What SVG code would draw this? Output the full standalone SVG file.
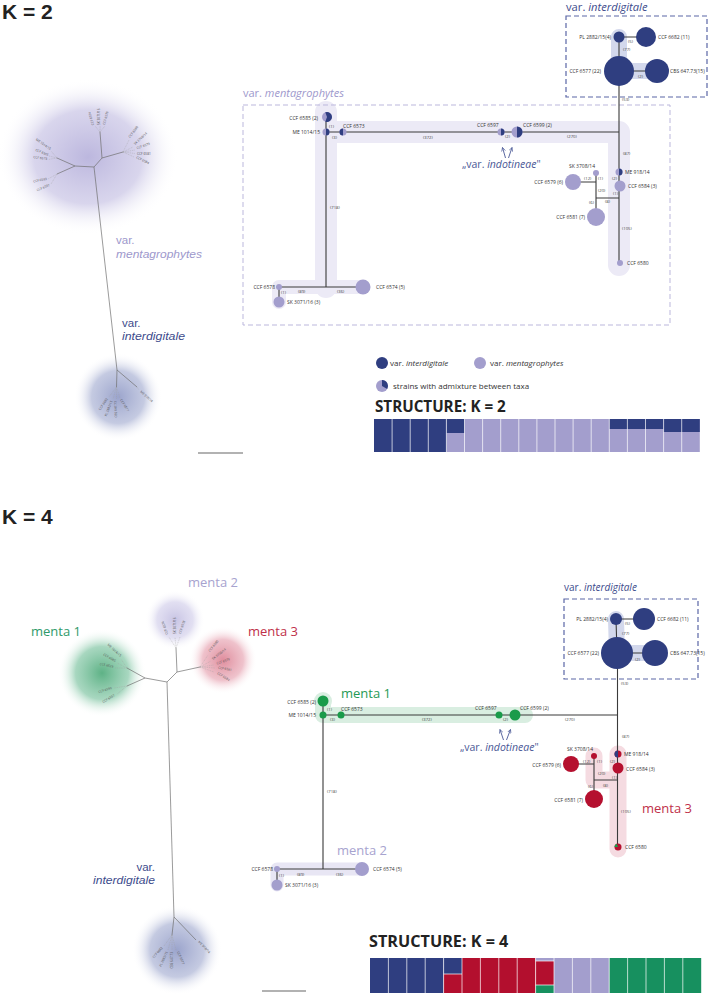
<svg xmlns="http://www.w3.org/2000/svg" width="709" height="994" viewBox="0 0 709 994">
<defs>
<style>
text{font-family:"Open Sans","Liberation Sans",sans-serif}
.n{font-size:5px;fill:#333}
.s{font-size:4.2px;fill:#444}
.t{font-size:3.2px;fill:#555}
.e{stroke:#3a3a3a;stroke-width:1.1;fill:none}
.tr{stroke:#707070;stroke-width:0.7;fill:none}
.dl{stroke:#a0a0a0;stroke-width:0.4;stroke-dasharray:1 0.8;fill:none}
.nv{fill:#2f3e80}.lp{fill:#a39ecd}.gr{fill:#1a9b4a}.rd{fill:#b5102f}
.hd{font-weight:700;fill:#222}
.kh{font-family:"Liberation Sans",Arial,sans-serif;font-weight:700;fill:#222;font-size:21px}
.tl{font-family:"Liberation Sans",Arial,sans-serif;font-size:11.5px}
.ib{fill:#3d4b8c}.mb{fill:#9d98cc}
.it{font-style:italic}
.ar{stroke:#4a5896;stroke-width:0.9;fill:none;marker-end:url(#ah)}
</style>
<marker id="ah" viewBox="0 0 6 6" refX="5" refY="3" markerWidth="5" markerHeight="5" orient="auto"><path d="M0,0.5 L5,3 L0,5.5" fill="none" stroke="#4a5896" stroke-width="0.9"/></marker>
<radialGradient id="gTop"><stop offset="0" stop-color="#bcb7de"/><stop offset="0.6" stop-color="#cfcbe8" stop-opacity="0.8"/><stop offset="1" stop-color="#ffffff" stop-opacity="0"/></radialGradient>
<radialGradient id="gInt"><stop offset="0" stop-color="#9ba4cc"/><stop offset="0.6" stop-color="#b6bdda" stop-opacity="0.8"/><stop offset="1" stop-color="#ffffff" stop-opacity="0"/></radialGradient>
<radialGradient id="gGr"><stop offset="0" stop-color="#5eb286"/><stop offset="0.6" stop-color="#92cdb0" stop-opacity="0.8"/><stop offset="1" stop-color="#ffffff" stop-opacity="0"/></radialGradient>
<radialGradient id="gPu"><stop offset="0" stop-color="#c8c4e4"/><stop offset="0.6" stop-color="#dad7ee" stop-opacity="0.8"/><stop offset="1" stop-color="#ffffff" stop-opacity="0"/></radialGradient>
<radialGradient id="gRd"><stop offset="0" stop-color="#df8d9d"/><stop offset="0.6" stop-color="#ebb3bf" stop-opacity="0.8"/><stop offset="1" stop-color="#ffffff" stop-opacity="0"/></radialGradient>
</defs>
<rect width="709" height="994" fill="#ffffff"/>

<!-- ===== K = 2 ===== -->
<text x="2" y="19" class="kh">K = 2</text>

<g id="tree-k2">
<ellipse cx="88" cy="157" rx="90" ry="78" fill="url(#gTop)"/>
<circle cx="118" cy="397" r="44" fill="url(#gInt)"/>
<path class="tr" d="M94,167 L117,370 L116.5,387 M117,370 L137,387 M94,167 L75,166 L57,158 M75,166 L57,174 M94,167 L102,158 L100,132 M102,158 L123,152"/>
<path class="dl" d="M57,158 L51,151 M57,158 L49,156 M57,158 L48,159.5 M57,174 L48,179 M57,174 L51,184 M100,132 L95,126 M100,132 L100,126 M100,132 L105,126 M123,152 L129,140 M123,152 L133,147 M123,152 L135,150 M123,152 L135,153.5 M123,152 L134,157 M116.5,387 L109,397 M116.5,387 L113,399 M116.5,387 L116.5,399 M116.5,387 L120,398 M137,387 L139,390"/>
<text class="t" text-anchor="end" transform="translate(50,150) rotate(35)">ME 1014/15</text>
<text class="t" text-anchor="end" transform="translate(48,156) rotate(22)">CCF 6585</text>
<text class="t" text-anchor="end" transform="translate(47,160) rotate(8)">CCF 6573</text>
<text class="t" text-anchor="end" transform="translate(47,180) rotate(-10)">CCF 6599</text>
<text class="t" text-anchor="end" transform="translate(50,186) rotate(-22)">CCF 6597</text>
<text class="t" transform="translate(94,125) rotate(-105)">CCF 6574</text>
<text class="t" transform="translate(100,125) rotate(-90)">SK 3071/16</text>
<text class="t" transform="translate(105,125) rotate(-75)">CCF 6578</text>
<text class="t" transform="translate(130,138) rotate(-52)">CCF 6580</text>
<text class="t" transform="translate(135,145) rotate(-42)">SK 3708/14</text>
<text class="t" transform="translate(137,149) rotate(-18)">CCF 6579</text>
<text class="t" transform="translate(137,154.5)">CCF 6581</text>
<text class="t" transform="translate(136,158) rotate(27)">CCF 6584</text>
<text class="t" text-anchor="end" transform="translate(108,399) rotate(-56)">CCF 6682</text>
<text class="t" text-anchor="end" transform="translate(112.5,401) rotate(-70)">PL 2882/15</text>
<text class="t" text-anchor="end" transform="translate(116.5,401) rotate(-92)">CBS 647.73</text>
<text class="t" transform="translate(120,400) rotate(58)">CCF 6577</text>
<text class="t" transform="translate(140,392) rotate(42)">ME 918/14</text>
<text x="116" y="244" class="tl mb">var.</text>
<text x="116" y="257.5" class="tl mb it" textLength="86" lengthAdjust="spacingAndGlyphs">mentagrophytes</text>
<text x="122" y="326.5" class="tl ib">var.</text>
<text x="122" y="340" class="tl ib it" textLength="63" lengthAdjust="spacingAndGlyphs">interdigitale</text>
<line x1="198" y1="453" x2="243" y2="453" stroke="#999" stroke-width="1.5"/>
</g>

<g id="net-k2">
<text x="566" y="11" font-size="11.2" class="ib">var. <tspan class="it">interdigitale</tspan></text>
<text x="243" y="97" font-size="11" class="mb">var. <tspan class="it">mentagrophytes</tspan></text>
<g id="bands-k2" fill="none" stroke-linecap="round" stroke-linejoin="round">
<path d="M619,37 L619,71 L657,71" stroke="#d3d8ec" stroke-width="16"/>
<path d="M326,112 L326,287 M326,132 L619,132 L619,265" stroke="#eceaf6" stroke-width="22"/>
<path d="M279,302 L279,287 L363,287" stroke="#eceaf6" stroke-width="14"/>
</g>
<rect x="566" y="16" width="141" height="81" fill="none" stroke="#5a66a6" stroke-width="1.2" stroke-dasharray="5 3"/>
<rect x="243" y="105" width="427" height="220" fill="none" stroke="#bbb7dc" stroke-width="1" stroke-dasharray="5 3"/>
<g id="edges-k2">
<path class="e" d="M619,37 L646,37 M619,37 L619,71 L657,71 M619,71 L619,263 M326,132 L619,132 M326,117 L326,287 M279,287 L363,287 M279,287 L279,302 M596,173 L596,217 M573,182 L596,182 M596,198 L619,198"/>
<text class="s" x="628" y="43">(5)</text>
<text class="s" x="623" y="51">(77)</text>
<text class="s" x="638" y="78">(2)</text>
<text class="s" x="622" y="101">(53)</text>
<text class="s" x="329" y="127.5">(1)</text>
<text class="s" x="332" y="138.5">(3)</text>
<text class="s" x="423" y="138.5">(372)</text>
<text class="s" x="330" y="209">(718)</text>
<text class="s" x="281" y="294">(1)</text>
<text class="s" x="298" y="292.5">(89)</text>
<text class="s" x="337" y="292.5">(36)</text>
<text class="s" x="505" y="137.5">(2)</text>
<text class="s" x="567" y="138">(270)</text>
<text class="s" x="623" y="155">(87)</text>
<text class="s" x="584" y="180">(12)</text>
<text class="s" x="598" y="180">(1)</text>
<text class="s" x="612" y="180">(2)</text>
<text class="s" x="598" y="191.5">(20)</text>
<text class="s" x="613" y="195">(1)</text>
<text class="s" x="605" y="203">(8)</text>
<text class="s" x="589" y="204">(6)</text>
<text class="s" x="622" y="229.5">(105)</text>
</g>
<g id="k2-pl2882"><circle cx="619" cy="37" r="5.5" class="nv"/><text class="n" x="611" y="39" text-anchor="end">PL 2882/15(4)</text></g>
<g id="k2-ccf6682"><circle cx="646" cy="37" r="10" class="nv"/><text class="n" x="658" y="39">CCF 6682 (11)</text></g>
<g id="k2-ccf6577"><circle cx="619" cy="71" r="15" class="nv"/><text class="n" x="601" y="73" text-anchor="end">CCF 6577 (22)</text></g>
<g id="k2-cbs647"><circle cx="657" cy="71" r="12" class="nv"/><text class="n" x="670" y="73">CBS 647.73(15)</text></g>
<g id="k2-ccf6585"><circle cx="327" cy="117" r="5" class="lp"/><path d="M327,117 L325.3,112.3 A5,5 0 1 1 325.3,121.7 Z" class="nv"/><text class="n" x="318" y="120" text-anchor="end">CCF 6585 (2)</text></g>
<g id="k2-me1014"><circle cx="326" cy="132" r="3.5" class="lp"/><path d="M326,128.5 A3.5,3.5 0 0 1 326,135.5 Z" class="nv"/><text class="n" x="320" y="134" text-anchor="end">ME 1014/15</text></g>
<g id="k2-ccf6573"><circle cx="343" cy="132" r="3.5" class="lp"/><path d="M343,128.5 A3.5,3.5 0 0 0 343,135.5 Z" class="nv"/><text class="n" x="343" y="128">CCF 6573</text></g>
<g id="k2-ccf6597"><circle cx="501" cy="132" r="3.5" class="lp"/><path d="M501,128.5 A3.5,3.5 0 0 1 501,135.5 Z" class="nv"/><text class="n" x="477" y="127">CCF 6597</text></g>
<g id="k2-ccf6599"><circle cx="517" cy="132" r="5.5" class="lp"/><path d="M517,126.5 A5.5,5.5 0 0 1 517,137.5 Z" class="nv"/><text class="n" x="523" y="127">CCF 6599 (2)</text></g>
<g id="k2-indo">
<path class="ar" d="M505.5,158 L502.5,147.5"/>
<path class="ar" d="M508.5,158 L512,147.5"/>
<text x="462" y="168" font-size="10.5" fill="#4a5896">„var. <tspan class="it">indotineae</tspan>"</text>
</g>
<g id="k2-sk3708"><circle cx="596" cy="173" r="3" class="lp"/><text class="n" x="569" y="168">SK 3708/14</text></g>
<g id="k2-ccf6579"><circle cx="573" cy="182" r="8" class="lp"/><text class="n" x="563" y="184" text-anchor="end">CCF 6579 (6)</text></g>
<g id="k2-ccf6581"><circle cx="596" cy="217" r="9" class="lp"/><text class="n" x="585" y="219" text-anchor="end">CCF 6581 (7)</text></g>
<g id="k2-me918"><circle cx="619" cy="172" r="3.5" class="lp"/><path d="M619,168.5 A3.5,3.5 0 0 1 619,175.5 Z" class="nv"/><text class="n" x="625" y="174">ME 918/14</text></g>
<g id="k2-ccf6584"><circle cx="620" cy="186" r="5.5" class="lp"/><text class="n" x="628" y="188">CCF 6584 (3)</text></g>
<g id="k2-ccf6580"><circle cx="620" cy="263" r="3" class="lp"/><text class="n" x="627" y="265">CCF 6580</text></g>
<g id="k2-ccf6578"><circle cx="279" cy="287" r="3" class="lp"/><text class="n" x="275" y="289" text-anchor="end">CCF 6578</text></g>
<g id="k2-sk3071"><circle cx="279" cy="302" r="5.5" class="lp"/><text class="n" x="287" y="304">SK 3071/16 (3)</text></g>
<g id="k2-ccf6574"><circle cx="363" cy="287" r="7.5" class="lp"/><text class="n" x="376" y="289">CCF 6574 (5)</text></g>
</g>

<g id="legend-k2">
<circle cx="382" cy="363" r="6" class="nv"/>
<text x="390" y="366" font-size="8" fill="#333">var. <tspan class="it">interdigitale</tspan></text>
<circle cx="480" cy="363" r="6" class="lp"/>
<text x="490" y="366" font-size="8" fill="#333">var. <tspan class="it">mentagrophytes</tspan></text>
<circle cx="382" cy="386" r="6" class="lp"/>
<path d="M382,386 L382,380 A6,6 0 0 1 387.2,389 Z" class="nv"/>
<text x="393" y="389" font-size="8" fill="#333">strains with admixture between taxa</text>
</g>

<g id="structure-k2">
<text x="375" y="412" font-size="15.2" class="hd">STRUCTURE: K = 2</text>
<rect x="374" y="419" width="325.8" height="33" fill="#a39ecd"/>
<rect x="374" y="419" width="72.4" height="33" fill="#2f3e80"/>
<rect x="446.4" y="419" width="18.1" height="14" fill="#2f3e80"/>
<rect x="609.3" y="419" width="54.3" height="10" fill="#2f3e80"/>
<rect x="663.6" y="419" width="36.2" height="13" fill="#2f3e80"/>
<path d="M392.1,419 V452 M410.2,419 V452 M428.3,419 V452 M446.4,419 V452 M464.5,419 V452 M482.6,419 V452 M500.7,419 V452 M518.8,419 V452 M536.9,419 V452 M555,419 V452 M573.1,419 V452 M591.2,419 V452 M609.3,419 V452 M627.4,419 V452 M645.5,419 V452 M663.6,419 V452 M681.7,419 V452" stroke="#ffffff" stroke-width="0.7" fill="none"/>
</g>

<!-- ===== K = 4 ===== -->
<text x="2" y="524" class="kh">K = 4</text>

<g id="tree-k4">
<circle cx="102" cy="673" r="44" fill="url(#gGr)"/>
<circle cx="175" cy="620" r="30" fill="url(#gPu)"/>
<circle cx="223" cy="660" r="34" fill="url(#gRd)"/>
<circle cx="177" cy="950" r="45" fill="url(#gInt)"/>
<path class="tr" d="M167,682 L174,917 L172,935 M174,917 L196,940 M167,682 L145,678 L127,668 M145,678 L127,686 M167,682 L177,672 L176,648 M177,672 L200,667"/>
<path class="dl" d="M127,668 L121,659 M127,668 L117,663 M127,668 L115,668 M127,686 L114,688 M127,686 L117,694 M176,648 L169,637 M176,648 L175,637 M176,648 L180,637 M200,667 L208,655 M200,667 L211,661 M200,667 L214,665 M200,667 L215,668 M200,667 L214,672 M172,935 L164,946 M172,935 L168,950 M172,935 L172,950 M172,935 L176,950"/>
<text class="t" text-anchor="end" transform="translate(120,657) rotate(43)">ME 1014/15</text>
<text class="t" text-anchor="end" transform="translate(115,662) rotate(29)">CCF 6585</text>
<text class="t" text-anchor="end" transform="translate(113,668) rotate(13)">CCF 6573</text>
<text class="t" text-anchor="end" transform="translate(112,689) rotate(-17)">CCF 6599</text>
<text class="t" text-anchor="end" transform="translate(115,696) rotate(-31)">CCF 6597</text>
<text class="t" transform="translate(168,634) rotate(-108)">CCF 6574</text>
<text class="t" transform="translate(176,634) rotate(-90)">SK 3071/16</text>
<text class="t" transform="translate(181,634) rotate(-72)">CCF 6578</text>
<text class="t" transform="translate(210,652) rotate(-51)">CCF 6580</text>
<text class="t" transform="translate(213,660) rotate(-37)">SK 3708/14</text>
<text class="t" transform="translate(217,664.5) rotate(-18)">CCF 6579</text>
<text class="t" transform="translate(218,668.5) rotate(11)">CCF 6581</text>
<text class="t" transform="translate(217,674) rotate(31)">CCF 6584</text>
<text class="t" text-anchor="end" transform="translate(163,948) rotate(-49)">CCF 6682</text>
<text class="t" text-anchor="end" transform="translate(168,952) rotate(-66)">PL 2882/15</text>
<text class="t" text-anchor="end" transform="translate(173,952) rotate(-90)">CBS 647.73</text>
<text class="t" transform="translate(177,952) rotate(66)">CCF 6577</text>
<text class="t" transform="translate(198,942) rotate(47)">ME 918/14</text>
<text x="188" y="587" font-size="13" fill="#a7a3cf">menta 2</text>
<text x="31" y="636" font-size="13" fill="#2e9a6a">menta 1</text>
<text x="248" y="636" font-size="13" fill="#c0304a">menta 3</text>
<text x="155" y="870.5" class="tl ib" text-anchor="end">var.</text>
<text x="155" y="884" class="tl ib it" text-anchor="end" textLength="62" lengthAdjust="spacingAndGlyphs">interdigitale</text>
<line x1="262" y1="991" x2="306" y2="991" stroke="#999" stroke-width="1.5"/>
</g>

<g id="net-k4">
<text x="564" y="591" font-size="10" class="ib">var. <tspan class="it">interdigitale</tspan></text>
<g id="bands-k4" fill="none" stroke-linecap="round" stroke-linejoin="round">
<path d="M616,619 L617,653 L655,653" stroke="#d3d8ec" stroke-width="16"/>
<path d="M323,701 L323,715 L525,715" stroke="#d9eee1" stroke-width="16"/>
<circle cx="323" cy="701" r="9" fill="#d9eee1" stroke="none"/>
<path d="M277,885 L277,869 L362,869" stroke="#e8e6f4" stroke-width="13"/>
<path d="M594,756 L594,780 L618,780 M618,754 L618,849" stroke="#f5dbe1" stroke-width="17"/>
</g>
<rect x="564" y="599" width="134" height="80" fill="none" stroke="#5a66a6" stroke-width="1.2" stroke-dasharray="5 3"/>
<g id="edges-k4">
<path class="e" d="M616,619 L644,619 M616,619 L617,653 L655,653 M617.5,653 L617.5,847 M323,715 L617.5,715 M323,701 L323,869 M277,869 L362,869 M277,869 L277,885 M594,756 L594,799 M571,764 L594,764 M594,780 L617.5,780"/>
<text class="s" x="625" y="625">(5)</text>
<text class="s" x="622" y="635">(77)</text>
<text class="s" x="635" y="661">(2)</text>
<text class="s" x="621" y="685">(53)</text>
<text class="s" x="327" y="710.5">(1)</text>
<text class="s" x="330" y="721">(3)</text>
<text class="s" x="422" y="721">(372)</text>
<text class="s" x="327" y="793">(718)</text>
<text class="s" x="279" y="877">(1)</text>
<text class="s" x="297" y="876">(89)</text>
<text class="s" x="336" y="876">(36)</text>
<text class="s" x="503" y="721">(2)</text>
<text class="s" x="565" y="721">(270)</text>
<text class="s" x="622" y="738">(87)</text>
<text class="s" x="583" y="763">(12)</text>
<text class="s" x="597" y="763">(1)</text>
<text class="s" x="610" y="763">(2)</text>
<text class="s" x="598" y="775">(20)</text>
<text class="s" x="612" y="779">(1)</text>
<text class="s" x="603" y="787">(8)</text>
<text class="s" x="588" y="788">(6)</text>
<text class="s" x="621" y="813">(105)</text>
</g>
<g id="k4-pl2882"><circle cx="616" cy="619" r="6" class="nv"/><text class="n" x="608" y="621" text-anchor="end">PL 2882/15(4)</text></g>
<g id="k4-ccf6682"><circle cx="644" cy="619" r="11" class="nv"/><text class="n" x="657" y="621">CCF 6682 (11)</text></g>
<g id="k4-ccf6577"><circle cx="617" cy="653" r="16" class="nv"/><text class="n" x="599" y="655" text-anchor="end">CCF 6577 (22)</text></g>
<g id="k4-cbs647"><circle cx="655" cy="653" r="13" class="nv"/><text class="n" x="670" y="655">CBS 647.73(15)</text></g>
<g id="k4-ccf6585"><circle cx="323" cy="701" r="5.5" class="gr"/><text class="n" x="316" y="704" text-anchor="end">CCF 6585 (2)</text></g>
<g id="k4-me1014"><circle cx="323" cy="715" r="3.5" class="gr"/><text class="n" x="316" y="717" text-anchor="end">ME 1014/15</text></g>
<g id="k4-ccf6573"><circle cx="341" cy="715" r="3.5" class="gr"/><text class="n" x="341" y="711">CCF 6573</text></g>
<g id="k4-ccf6597"><circle cx="499" cy="715" r="3.5" class="gr"/><text class="n" x="475" y="710">CCF 6597</text></g>
<g id="k4-ccf6599"><circle cx="515" cy="715" r="5.5" class="gr"/><text class="n" x="520" y="710">CCF 6599 (2)</text></g>
<g id="k4-indo">
<path class="ar" d="M503.5,740 L500,729.5"/>
<path class="ar" d="M506.5,740 L510.5,729.5"/>
<text x="460" y="751" font-size="10.5" fill="#4a5896">„var. <tspan class="it">indotineae</tspan>"</text>
</g>
<g id="k4-sk3708"><circle cx="594" cy="756" r="3" class="rd"/><text class="n" x="567" y="751">SK 3708/14</text></g>
<g id="k4-ccf6579"><circle cx="571" cy="764" r="8" class="rd"/><text class="n" x="561" y="767" text-anchor="end">CCF 6579 (6)</text></g>
<g id="k4-ccf6581"><circle cx="594" cy="799" r="9" class="rd"/><text class="n" x="583" y="802" text-anchor="end">CCF 6581 (7)</text></g>
<g id="k4-me918"><circle cx="618" cy="754" r="3.5" class="rd"/><path d="M618,750.5 A3.5,3.5 0 0 0 618,757.5 Z" class="nv"/><text class="n" x="624" y="756">ME 918/14</text></g>
<g id="k4-ccf6584"><circle cx="618" cy="768" r="5.5" class="rd"/><text class="n" x="626" y="771">CCF 6584 (3)</text></g>
<g id="k4-ccf6580"><circle cx="618" cy="847" r="3.5" class="rd"/><path d="M618,847 L614.5,847 A3.5,3.5 0 0 1 616.8,843.7 Z" class="gr"/><text class="n" x="625" y="849">CCF 6580</text></g>
<g id="k4-ccf6578"><circle cx="277" cy="869" r="3" class="lp"/><text class="n" x="273" y="871" text-anchor="end">CCF 6578</text></g>
<g id="k4-sk3071"><circle cx="277" cy="885" r="5.5" class="lp"/><text class="n" x="285" y="887">SK 3071/16 (3)</text></g>
<g id="k4-ccf6574"><circle cx="362" cy="869" r="7" class="lp"/><text class="n" x="373" y="871">CCF 6574 (5)</text></g>
<text x="341" y="698" font-size="13" fill="#1f9a55">menta 1</text>
<text x="337" y="855" font-size="13" fill="#a7a3cf">menta 2</text>
<text x="642" y="813" font-size="13" fill="#c0304a">menta 3</text>
</g>

<g id="structure-k4">
<text x="369" y="947" font-size="16.2" class="hd">STRUCTURE: K = 4</text>
<rect x="370" y="958" width="73.6" height="35" fill="#2f3e80"/>
<rect x="443.6" y="958" width="18.4" height="16" fill="#2f3e80"/>
<rect x="443.6" y="974" width="18.4" height="19" fill="#b30f2e"/>
<rect x="462" y="958" width="73.6" height="35" fill="#b30f2e"/>
<rect x="535.6" y="958" width="18.4" height="3" fill="#a39ecd"/>
<rect x="535.6" y="961" width="18.4" height="24" fill="#b30f2e"/>
<rect x="535.6" y="985" width="18.4" height="8" fill="#17905f"/>
<rect x="554" y="958" width="55.2" height="35" fill="#a39ecd"/>
<rect x="609.2" y="958" width="92" height="35" fill="#17905f"/>
<path d="M388.4,958 V993 M406.8,958 V993 M425.2,958 V993 M443.6,958 V993 M462,958 V993 M480.4,958 V993 M498.8,958 V993 M517.2,958 V993 M535.6,958 V993 M554,958 V993 M572.4,958 V993 M590.8,958 V993 M609.2,958 V993 M627.6,958 V993 M646,958 V993 M664.4,958 V993 M682.8,958 V993 M443.6,974 H462 M535.6,961 H554 M535.6,985 H554" stroke="#ffffff" stroke-width="0.7" fill="none"/>
</g>
</svg>
